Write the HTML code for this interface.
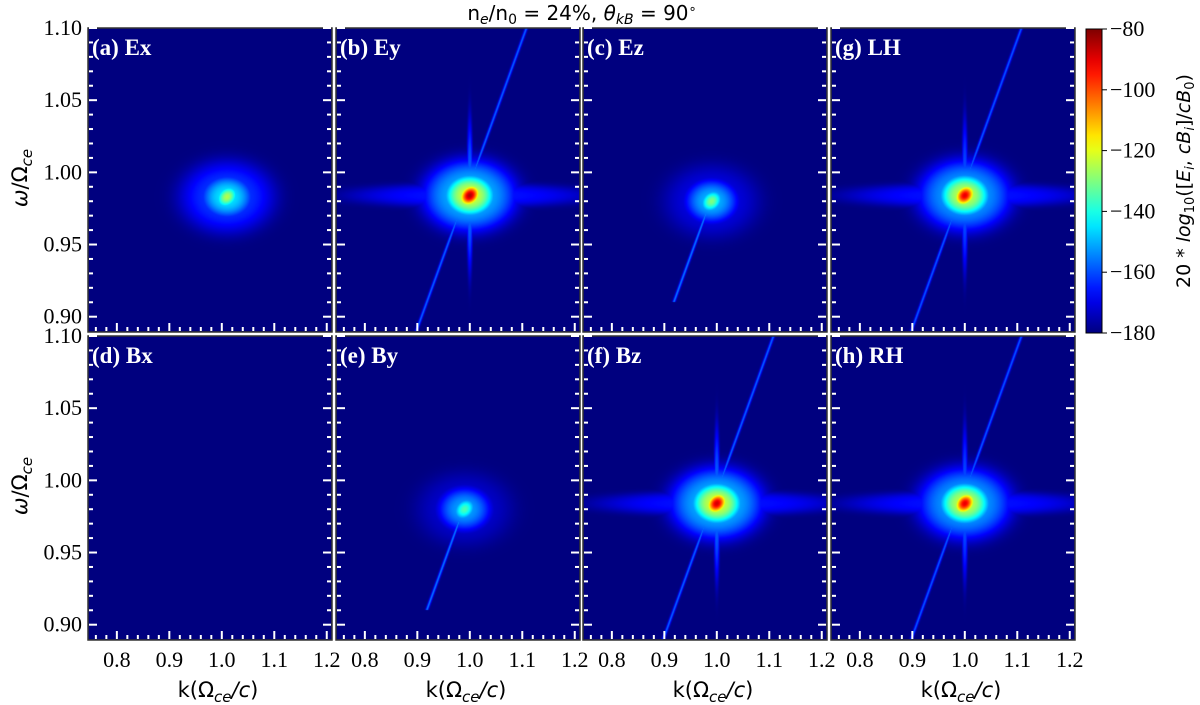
<!DOCTYPE html>
<html><head><meta charset="utf-8"><style>
html,body{margin:0;padding:0;background:#fff;}
#wrap{position:relative;width:1200px;height:705px;overflow:hidden;}
canvas{position:absolute;}
svg{position:absolute;left:0;top:0;}
</style></head><body>
<div id="wrap">
<svg id="ov" width="1200" height="705"></svg>
</div>
<script>
// ---- data ----
const panelLabels = ["(a) Ex","(b) Ey","(c) Ez","(g) LH","(d) Bx","(e) By","(f) Bz","(h) RH"];
const coreK   = [1.01, 1.00, 0.99, 1.00, 1.00, 0.99, 1.00, 1.00];
const coreW   = [0.983,0.984,0.980,0.984,0.98,0.980,0.984,0.984];
const corePeak= [-125, -85, -130, -90, -180, -135, -88, -90];
const midLevel= [-145, -122, -150, -124, -180, -152, -122, -124];
const haloLevel=[-162, -150, -170, -152, -180, -172, -150, -152];
const wingLevel=[-180, -166, -180, -166, -180, -180, -166, -166];
const spikeLevel=[-180, -158, -180, -160, -180, -180, -158, -160];
const lineLevel=[-180, -157, -155, -158, -180, -155, -157, -158];
const lineTop = [0.0,  1.10, 0.975, 1.10, 0.0, 0.975, 1.10, 1.10];
const lineBot = [0.0,  0.89, 0.91, 0.89, 0.0, 0.91, 0.89, 0.89];
const cbTicks = [-80,-100,-120,-140,-160,-180];
const xTicks = [0.8,0.9,1.0,1.1,1.2];
const yTicks = [0.90,0.95,1.00,1.05,1.10];
// ---- layout ----
const lefts=[88,336,583,831], tops=[28,336], PW=244, PH=304;
const KMIN=0.745,KMAX=1.21,WMIN=0.8894,WMAX=1.10;
const X=(k,l)=>l+(k-KMIN)/(KMAX-KMIN)*PW;
const Y=(w,t)=>t+(WMAX-w)/(WMAX-WMIN)*PH;
const SERIF="'Liberation Serif', serif", SANS="'DejaVu Sans', sans-serif";
function jet(t){t=Math.max(0,Math.min(1,t));
 const r=Math.max(0,Math.min(1,1.5-Math.abs(4*t-3)));
 const g=Math.max(0,Math.min(1,1.5-Math.abs(4*t-2)));
 const b=Math.max(0,Math.min(1,1.5-Math.abs(4*t-1)));
 return [r*255|0,g*255|0,b*255|0];}
const wrap=document.getElementById('wrap'), ov=document.getElementById('ov');
const NS="http://www.w3.org/2000/svg";
function el(tag,attrs,txt){const e=document.createElementNS(NS,tag);for(const a in attrs)e.setAttribute(a,attrs[a]);if(txt!==undefined)e.textContent=txt;ov.appendChild(e);return e;}
function sg(dk,dw,sk,sw,pw){const r2=(dk/sk)**2+(dw/sw)**2;return Math.exp(-0.5*Math.pow(r2,pw));}
for(let p=0;p<8;p++){
 const col=p%4,row=Math.floor(p/4),l=lefts[col],t=tops[row];
 const cv=document.createElement('canvas');cv.width=PW;cv.height=PH;
 cv.style.left=l+'px';cv.style.top=t+'px';
 
 
 wrap.insertBefore(cv,ov);
 const ctx=cv.getContext('2d'),img=ctx.createImageData(PW,PH);
 for(let j=0;j<PH;j++)for(let i=0;i<PW;i++){
  const k=KMIN+(i+0.5)/PW*(KMAX-KMIN), w=WMAX-(j+0.5)/PH*(WMAX-WMIN);
  const dk=k-coreK[p], dw=w-coreW[p];
  let v=-180;
  v=Math.max(v,-180+(corePeak[p]+180)*sg(dk-dw*0.6,dw,0.016,0.006,1));
  v=Math.max(v,-180+(midLevel[p]+180)*sg(dk,dw,0.04,0.012,1.5));
  v=Math.max(v,-180+(haloLevel[p]+180)*sg(dk,dw,0.075,0.021,2));
  v=Math.max(v,-180+(wingLevel[p]+180)*sg(dk,dw,0.19,0.007,2));
  if(lineLevel[p]>-180 && w<=lineTop[p] && w>=lineBot[p]){
   const d=((w-0.992)-(k-1.0));
   const dpx=d/(WMAX-WMIN)*PH/1.41;
   v=Math.max(v,-180+(lineLevel[p]+180)*Math.exp(-0.5*(dpx/2.0)**2));
  }
  if(spikeLevel[p]>-180){
   v=Math.max(v,-180+(spikeLevel[p]+180)*sg(dk,dw,0.005,0.045,2));
  }
  const c=jet((v+180)/100),o=(j*PW+i)*4;
  img.data[o]=c[0];img.data[o+1]=c[1];img.data[o+2]=c[2];img.data[o+3]=255;
 }
 ctx.putImageData(img,0,0);
 el('rect',{x:l,y:t,width:PW,height:PH,fill:'none',stroke:'#333','stroke-width':1.5,});
 for(let w=0.90;w<=1.1001;w+=0.01){
  const maj=Math.abs(w*20-Math.round(w*20))<1e-6, y=Y(w,t), L=maj?8:4;
  el('line',{x1:l+1,x2:l+1+L,y1:y,y2:y,stroke:'#fff','stroke-width':2,});
  el('line',{x1:l+PW-1,x2:l+PW-1-L,y1:y,y2:y,stroke:'#fff','stroke-width':2,});
 }
 for(let k=0.76;k<=1.2001;k+=0.02){
  const maj=Math.abs(k*10-Math.round(k*10))<1e-6, x=X(k,l), L=maj?8:4;
  el('line',{x1:x,x2:x,y1:t+PH-1,y2:t+PH-1-L,stroke:'#fff','stroke-width':2,});
 }
 el('text',{x:l+4,y:t+27,fill:'#fff','font-family':SERIF,'font-weight':'bold','font-size':23,},panelLabels[p]);
 if(row===1){
  xTicks.forEach(k=>el('text',{x:X(k,l),y:667,'text-anchor':'middle','font-family':SERIF,'font-size':22,},k.toFixed(1)));
  const xt=el('text',{x:l+PW/2+8,y:697,'text-anchor':'middle','font-family':SANS,'font-size':21,});
  xt.innerHTML='k(Ω<tspan font-size="15" dy="5" font-style="italic">ce</tspan><tspan dy="-5" font-style="italic">/c</tspan>)';
 }
 if(col===0){
  yTicks.forEach(w=>el('text',{x:82,y:Y(w,t)+7,'text-anchor':'end','font-family':SERIF,'font-size':22,},w.toFixed(2)));
  const yt=el('text',{x:0,y:0,'text-anchor':'middle','font-family':SANS,'font-size':21,transform:`translate(27,${t+150}) rotate(-90)`,});
  yt.innerHTML='<tspan font-style="italic">ω</tspan>/Ω<tspan font-size="15" dy="5" font-style="italic">ce</tspan>';
 }
}
const defs=el('defs',{});
const lg=document.createElementNS(NS,'linearGradient');lg.setAttribute('id','jetg');lg.setAttribute('x1','0');lg.setAttribute('y1','1');lg.setAttribute('x2','0');lg.setAttribute('y2','0');
for(let s=0;s<=20;s++){const c=jet(s/20);const st=document.createElementNS(NS,'stop');st.setAttribute('offset',s/20);st.setAttribute('stop-color',`rgb(${c})`);lg.appendChild(st);}
defs.appendChild(lg);
el('rect',{x:1086,y:29,width:16,height:304,fill:'url(#jetg)',stroke:'#000','stroke-width':1,});
cbTicks.forEach(v=>{const y=29+(-80-v)/100*304;
 el('line',{x1:1102,x2:1107,y1:y,y2:y,stroke:'#000','stroke-width':1,});
 el('text',{x:1110,y:y+7,'font-family':SERIF,'font-size':22,},'−'+Math.abs(v));});
const cbl=el('text',{x:0,y:0,'text-anchor':'middle','font-family':SANS,'font-size':19,transform:'translate(1190,181) rotate(-90)',});
cbl.innerHTML='20 * <tspan font-style="italic">log</tspan><tspan font-size="13" dy="4">10</tspan><tspan dy="-4">([</tspan><tspan font-style="italic">E<tspan font-size="13" dy="4">i</tspan></tspan><tspan dy="-4">, </tspan><tspan font-style="italic">cB<tspan font-size="13" dy="4">i</tspan></tspan><tspan dy="-4">]/</tspan><tspan font-style="italic">cB</tspan><tspan font-size="13" dy="4">0</tspan><tspan dy="-4">)</tspan>';
const tt=el('text',{x:582,y:20,'text-anchor':'middle','font-family':SANS,'font-size':20,});
tt.innerHTML='n<tspan font-size="14" dy="4" font-style="italic">e</tspan><tspan dy="-4">/n</tspan><tspan font-size="14" dy="4">0</tspan><tspan dy="-4"> = 24%, </tspan><tspan font-style="italic">θ</tspan><tspan font-size="14" dy="4" font-style="italic">kB</tspan><tspan dy="-4"> = 90</tspan><tspan font-size="13" dy="-7">∘</tspan>';
</script>
</body></html>
